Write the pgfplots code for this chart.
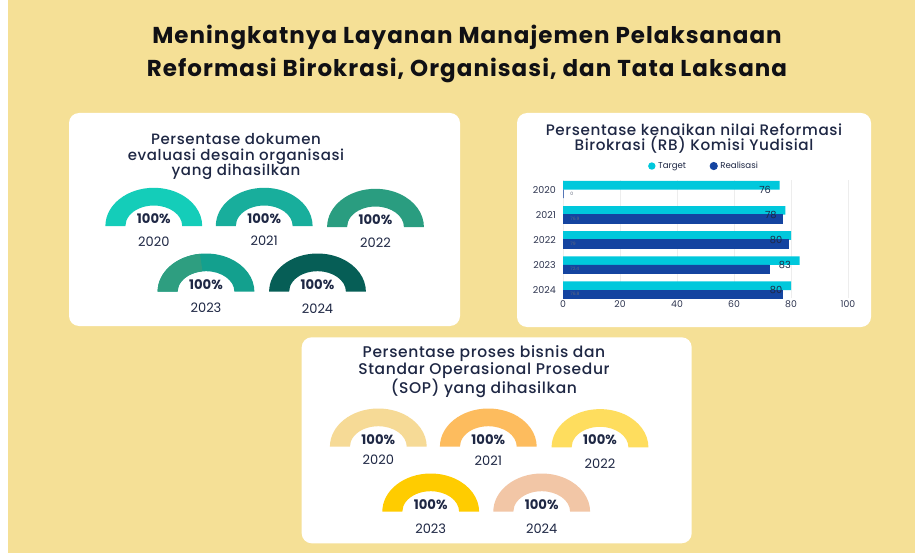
\documentclass[border=0pt]{standalone}
\usepackage{fontspec}
\setmainfont{Poppins}
\newfontfamily\popmed{Poppins Medium}[LetterSpace=4]
\newfontfamily\popbold{Poppins Bold}[LetterSpace=4.5]
\usepackage{pgfplots}
\usepackage{pgfplotstable}
\pgfplotsset{compat=1.18}
\pgfplotsset{/pgf/number format/assume math mode=true}

\definecolor{bg}{HTML}{F5E096}
\definecolor{navy}{HTML}{1E2744}
\definecolor{tick}{HTML}{2E3550}
\definecolor{ttl}{HTML}{101014}
\definecolor{gA}{HTML}{14CDB9}
\definecolor{gB}{HTML}{18AE9C}
\definecolor{gC}{HTML}{2A9D80}
\definecolor{gDa}{HTML}{2E9E80}
\definecolor{gDb}{HTML}{13A08E}
\definecolor{gE}{HTML}{065E56}
\definecolor{yA}{HTML}{F6DA96}
\definecolor{yB}{HTML}{FDBC5E}
\definecolor{yC}{HTML}{FEDD5E}
\definecolor{yD}{HTML}{FFCC00}
\definecolor{yE}{HTML}{F2C6A6}
\definecolor{cTarget}{HTML}{00C8DC}
\definecolor{cReal}{HTML}{1444A0}

% gauge: half ring, swept according to the value (100 = full half ring)
\pgfdeclareplotmark{gauge}{%
  \pgfmathsetmacro\gend{180-1.8*\gval}%
  \fill[draw=none] (-48.4pt,0pt) arc[start angle=180,end angle=\gend,x radius=48.4pt,y radius=38.2pt]
     -- ({28.4pt*cos(\gend)},{20.5pt*sin(\gend)})
     arc[start angle=\gend,end angle=180,x radius=28.4pt,y radius=20.5pt] -- cycle;}

% panel 1 gauges (positions in px of the layout)
\pgfplotstableread{
x y ylab val yr cls
153.8 226 241.7 100 2020 a
264.2 226 241.2 100 2021 b
375.5 227 243.0 100 2022 c
206.0 291.7 307.7 100 2023 d
317.5 291.7 309.0 100 2024 e
}\gaugeA
% panel 3 gauges
\pgfplotstableread{
x y ylab val yr cls
378.3 446.7 459.5 100 2020 a
488.3 446.7 461.0 100 2021 b
600.0 447.3 463.3 100 2022 c
430.7 511.7 528.3 100 2023 d
541.7 511.7 529.0 100 2024 e
}\gaugeB
% RB chart
\pgfplotstableread{
pos yr target real
4 2020 76 0
3 2021 78 76.9
2 2022 80 79.0
1 2023 83 72.4
0 2024 80 76.8
}\rb

\begin{document}
\begin{tikzpicture}
\path[use as bounding box] (0,0) rectangle (915pt,-553pt);
\fill[white] (0,0) rectangle (915pt,-553pt);
\fill[bg] (8pt,0) rectangle (915pt,-553pt);
% panels
\fill[white,rounded corners=10pt] (69pt,-113pt) rectangle (460pt,-326pt);
\fill[white,rounded corners=10pt] (517pt,-113pt) rectangle (871pt,-327pt);
\fill[white,rounded corners=10pt] (301.7pt,-337.3pt) rectangle (691.7pt,-543.3pt);
% titles
\node[text=ttl,font=\popbold\fontsize{23}{33}\selectfont,align=center] at (467pt,-53.5pt)
  {Meningkatnya Layanan Manajemen Pelaksanaan\\Reformasi Birokrasi, Organisasi, dan Tata Laksana};
\node[text=navy,font=\popmed\fontsize{15}{15.8}\selectfont,align=center] at (236pt,-156.5pt)
  {Persentase dokumen\\evaluasi desain organisasi\\yang dihasilkan};
\node[text=navy,font=\popmed\fontsize{15.2}{13.6}\selectfont,align=center] at (694pt,-138.4pt)
  {Persentase kenaikan nilai Reformasi\\Birokrasi (RB) Komisi Yudisial};
\node[text=navy,font=\popmed\fontsize{15.5}{15.5}\selectfont,align=center] at (484pt,-371.5pt)
  {Persentase proses bisnis dan\\Standar Operasional Prosedur\\(SOP) yang dihasilkan};

% gauges
\begin{axis}[at={(0pt,0pt)}, anchor=north west, x=1pt, y=1pt, y dir=reverse,
  xmin=0, xmax=915, ymin=0, ymax=553, hide axis, clip=false]
\addplot[scatter, only marks, scatter src=explicit symbolic,
  scatter/classes={a={mark=gauge,fill=gA,draw=none},b={mark=gauge,fill=gB,draw=none},
    c={mark=gauge,fill=gC,draw=none},d={mark=gauge,fill=gDb,draw=none},e={mark=gauge,fill=gE,draw=none}},
  visualization depends on={\thisrow{val}\as\gval}]
  table[x=x,y=y,meta=cls]{\gaugeA};
% left segment of the 2023 gauge in a second tone
\addplot[only marks, mark=gauge, mark options={fill=gDa,draw=none},
  visualization depends on={\thisrow{val}\as\gval}]
  table[x=x,y=y]{
x y val
206.0 291.7 46
};
\addplot[scatter, only marks, scatter src=explicit symbolic,
  scatter/classes={a={mark=gauge,fill=yA,draw=none},b={mark=gauge,fill=yB,draw=none},
    c={mark=gauge,fill=yC,draw=none},d={mark=gauge,fill=yD,draw=none},e={mark=gauge,fill=yE,draw=none}},
  visualization depends on={\thisrow{val}\as\gval}]
  table[x=x,y=y,meta=cls]{\gaugeB};
% value labels
\addplot[draw=none, mark=none, point meta=explicit,
  nodes near coords={\pgfmathprintnumber{\pgfplotspointmeta}\%},
  every node near coord/.append style={anchor=center, yshift=7.5pt, inner sep=0pt,
    text=navy, font=\bfseries\fontsize{13.2}{14}\selectfont}]
  table[x=x,y=y,meta=val]{\gaugeA};
\addplot[draw=none, mark=none, point meta=explicit,
  nodes near coords={\pgfmathprintnumber{\pgfplotspointmeta}\%},
  every node near coord/.append style={anchor=center, yshift=7.5pt, inner sep=0pt,
    text=navy, font=\bfseries\fontsize{13.2}{14}\selectfont}]
  table[x=x,y=y,meta=val]{\gaugeB};
% year labels
\addplot[draw=none, mark=none, point meta=explicit symbolic, nodes near coords,
  every node near coord/.append style={anchor=center, inner sep=0pt,
    text=navy, font=\fontsize{13}{13}\selectfont}]
  table[x=x,y=ylab,meta=yr]{\gaugeA};
\addplot[draw=none, mark=none, point meta=explicit symbolic, nodes near coords,
  every node near coord/.append style={anchor=center, inner sep=0pt,
    text=navy, font=\fontsize{13}{13}\selectfont}]
  table[x=x,y=ylab,meta=yr]{\gaugeB};
\end{axis}

% RB bar chart
\begin{axis}[at={(563pt,-180.5pt)}, anchor=north west, width=285pt, height=117.6pt,
  scale only axis, xmin=0, xmax=100, ymin=-0.32, ymax=4.36, clip=false,
  axis line style={draw=none}, tick style={draw=none},
  xtick={0,20,...,100}, xmajorgrids, grid style={draw=black!7, line width=0.6pt},
  ytick={0,1,2,3,4}, yticklabels={2024,2023,2022,2021,2020},
  x tick label style={anchor=center, yshift=-6.3pt, inner sep=0pt, text=tick,
    font=\fontsize{9.3}{10}\selectfont},
  y tick label style={anchor=east, xshift=-7pt, inner sep=0pt, text=tick,
    font=\fontsize{9.5}{10}\selectfont},
  legend style={at={(0.298,1.123)}, anchor=west, draw=none, fill=none,
    legend columns=2, inner sep=0pt, text=navy, font=\fontsize{8.6}{9}\selectfont,
    nodes={inner sep=2.6pt},
    /tikz/every even column/.append style={column sep=21pt}},
]
\addplot[xbar, bar width=8.6pt, bar shift=4.3pt, fill=cTarget, draw=none,
  legend image code/.code={\fill[cTarget] (0pt,0pt) circle (3.7pt);},
  nodes near coords, point meta=x,
  every node near coord/.append style={anchor=east, xshift=-8.5pt, inner sep=0pt,
    text=navy, font=\fontsize{9.8}{10}\selectfont}]
  table[x=target,y=pos]{\rb};
\addlegendentry{Target}
\addplot[xbar, bar width=8.6pt, bar shift=-4.3pt, fill=cReal, draw=cReal, line width=0.7pt,
  legend image code/.code={\fill[cReal] (0pt,0pt) circle (3.7pt);}]
  table[x=real,y=pos]{\rb};
\addlegendentry{Realisasi}
\addplot[draw=none, mark=none, point meta=explicit, forget plot,
  nodes near coords={\pgfmathprintnumber[fixed,precision=1]{\pgfplotspointmeta}},
  every node near coord/.append style={anchor=west, yshift=-4.3pt, inner sep=0pt,
    text=navy!70, font=\fontsize{4.5}{5}\selectfont}]
  table[x expr=2.5, y=pos, meta=real]{\rb};
\end{axis}
\end{tikzpicture}
\end{document}
